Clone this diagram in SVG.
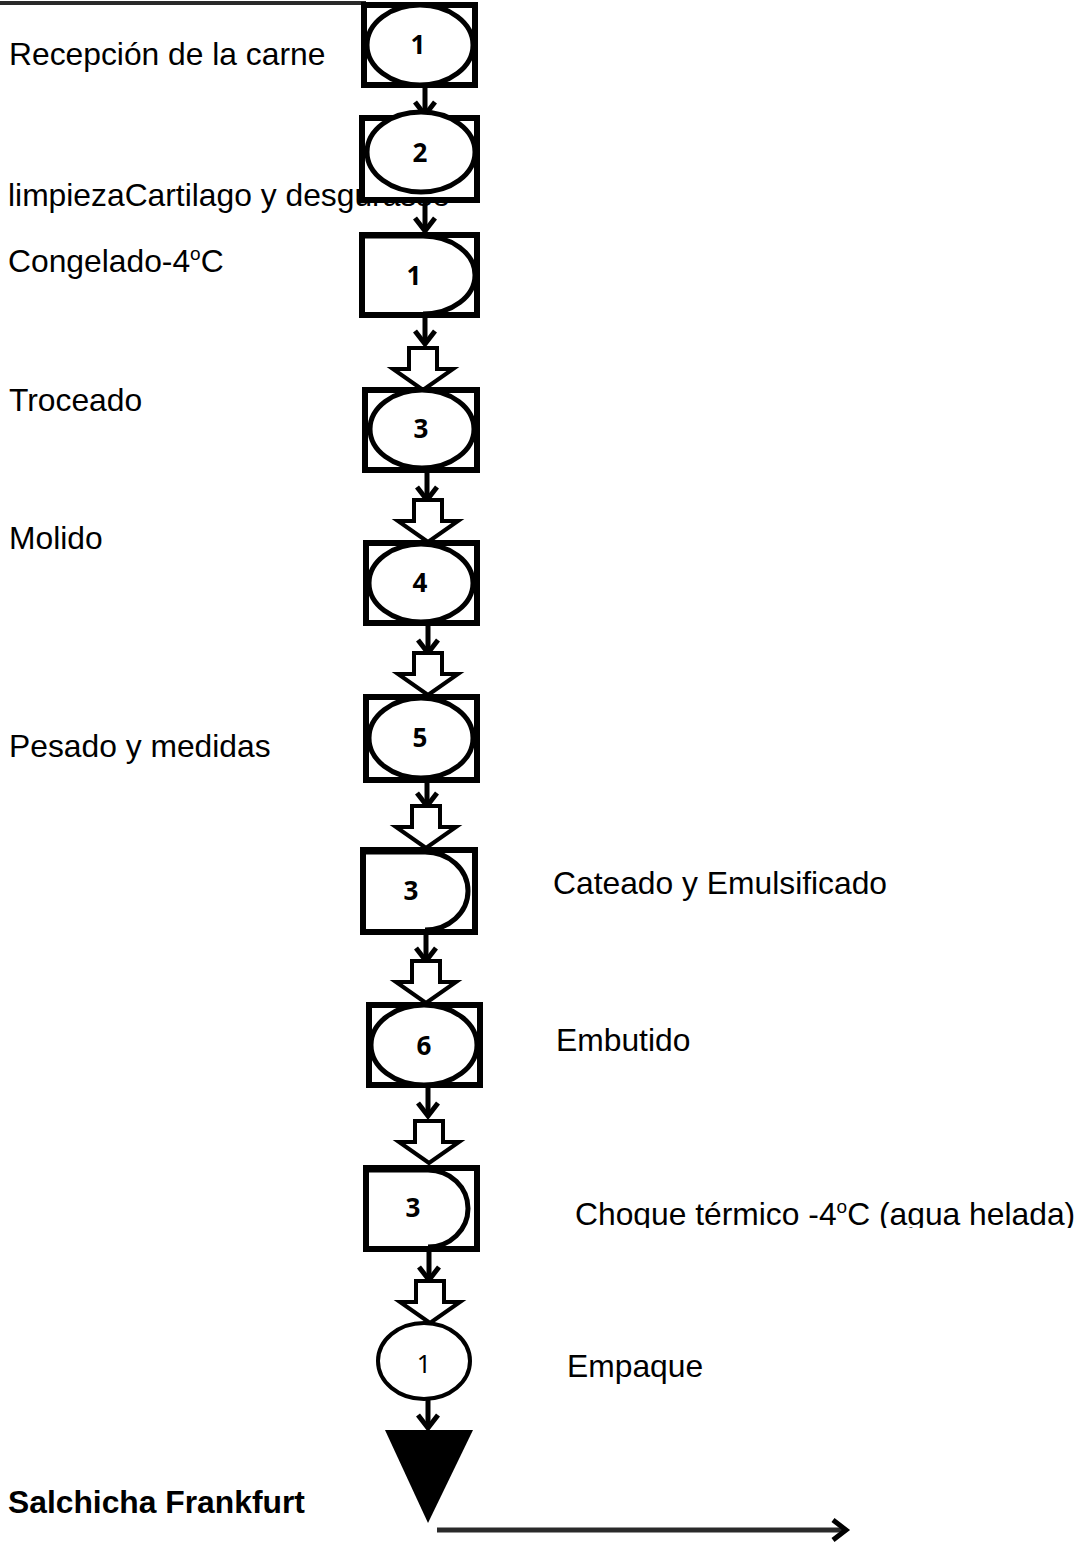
<svg xmlns="http://www.w3.org/2000/svg" xmlns:xlink="http://www.w3.org/1999/xlink" width="1085" height="1542" viewBox="0 0 1085 1542">
  <style>
    .lbl { font-family: "Liberation Sans", Arial, sans-serif; font-size: 31.8px; fill: #000; }
    .bold { font-weight: bold; }
    .num { font-family: "Open Sans", "Noto Sans", sans-serif; font-weight: bold; font-size: 26px; fill: #000; text-anchor: middle; }
    .numr { font-family: "Noto Sans", sans-serif; font-size: 25px; fill: #000; text-anchor: middle; }
    .box { fill: #fff; stroke: #000; stroke-width: 6; }
    .ell { fill: #fff; stroke: #000; stroke-width: 5; }
    .dly { fill: none; stroke: #000; stroke-width: 5; }
    .link { stroke: #000; stroke-width: 5; fill: none; }
    .blk { fill: #fff; stroke: #000; stroke-width: 4; stroke-linejoin: miter; }
  </style>
  <defs>
    <marker id="vhead" markerUnits="userSpaceOnUse" markerWidth="30" markerHeight="30" viewBox="-15 -15 30 30" refX="0" refY="0" orient="auto">
      <path d="M-13,-10 L0,0 L-13,10" fill="none" stroke="#000" stroke-width="5"/>
    </marker>
    <!-- hollow block arrow, tip at origin -->
    <path id="blk" d="M-14,-42 H14 V-21 H30 L0,0 L-30,-21 H-14 Z"/>
    <clipPath id="cutChoque">
      <rect x="500" y="1150" width="585" height="78"/>
    </clipPath>
  </defs>

  <rect width="1085" height="1542" fill="#fff"/>

  <!-- process labels -->
  <g id="labels">
    <text class="lbl" x="9" y="65">Recepción de la carne</text>
    <text class="lbl" x="8" y="206">limpiezaCartilago y desgurasse</text>
    <text class="lbl" x="8" y="272">Congelado-4<tspan font-size="19" dy="-12">o</tspan><tspan dy="12">C</tspan></text>
    <text class="lbl" x="9" y="411">Troceado</text>
    <text class="lbl" x="9" y="549">Molido</text>
    <text class="lbl" x="9" y="757">Pesado y medidas</text>
    <text class="lbl" x="553" y="894">Cateado y Emulsificado</text>
    <text class="lbl" x="556" y="1051">Embutido</text>
    <text class="lbl" x="575" y="1225" clip-path="url(#cutChoque)">Choque térmico -4<tspan font-size="19" dy="-12">o</tspan><tspan dy="12">C (agua helada)</tspan></text>
    <text class="lbl" x="567" y="1377">Empaque</text>
    <text class="lbl bold" x="8" y="1513">Salchicha Frankfurt</text>
  </g>

  <!-- connectors -->
  <g id="connectors">
    <line x1="0" y1="3" x2="366" y2="3" stroke="#2a2a2a" stroke-width="4"/>
    <line class="link" x1="425" y1="85" x2="425" y2="115" marker-end="url(#vhead)"/>
    <line class="link" x1="425" y1="200" x2="425" y2="231" marker-end="url(#vhead)"/>
    <line class="link" x1="425" y1="316" x2="425" y2="344" marker-end="url(#vhead)"/>
    <line class="link" x1="427" y1="470" x2="427" y2="500" marker-end="url(#vhead)"/>
    <line class="link" x1="428" y1="623" x2="428" y2="653" marker-end="url(#vhead)"/>
    <line class="link" x1="427" y1="780" x2="427" y2="806" marker-end="url(#vhead)"/>
    <line class="link" x1="426" y1="933" x2="426" y2="961" marker-end="url(#vhead)"/>
    <line class="link" x1="428" y1="1085" x2="428" y2="1116" marker-end="url(#vhead)"/>
    <line class="link" x1="429" y1="1250" x2="429" y2="1280" marker-end="url(#vhead)"/>
    <line class="link" x1="428" y1="1400" x2="428" y2="1428" marker-end="url(#vhead)"/>

    <use href="#blk" class="blk" x="423" y="390"/>
    <use href="#blk" class="blk" x="428" y="542"/>
    <use href="#blk" class="blk" x="428" y="695"/>
    <use href="#blk" class="blk" x="426" y="848"/>
    <use href="#blk" class="blk" x="426" y="1003"/>
    <use href="#blk" class="blk" x="429" y="1163"/>
    <use href="#blk" class="blk" x="430" y="1323"/>

    <line x1="437" y1="1530" x2="846" y2="1530" stroke="#2a2a2a" stroke-width="5" marker-end="url(#vhead)"/>
  </g>

  <!-- operation: reception -->
  <g id="op1">
    <rect class="box" x="364" y="5" width="111" height="80"/>
    <ellipse class="ell" cx="420" cy="45" rx="53" ry="40"/>
    <text class="num" x="418" y="54">1</text>
  </g>

  <!-- operation: cleaning -->
  <g id="op2">
    <rect class="box" x="362" y="118" width="115" height="82"/>
    <ellipse class="ell" cx="421" cy="152" rx="54" ry="40"/>
    <text class="num" x="420" y="162">2</text>
  </g>

  <!-- delay: freezing -->
  <g id="delay1">
    <rect class="box" x="362" y="235" width="115" height="80"/>
    <path class="dly" d="M362,236 H423 A52,39 0 0 1 423,314"/>
    <text class="num" x="414" y="285">1</text>
  </g>

  <!-- operation: cutting -->
  <g id="op3">
    <rect class="box" x="365" y="390" width="112" height="80"/>
    <ellipse class="ell" cx="422" cy="429" rx="52" ry="39"/>
    <text class="num" x="421" y="438">3</text>
  </g>

  <!-- operation: grinding -->
  <g id="op4">
    <rect class="box" x="366" y="543" width="111" height="80"/>
    <ellipse class="ell" cx="421" cy="583" rx="52" ry="39"/>
    <text class="num" x="420" y="592">4</text>
  </g>

  <!-- operation: weighing -->
  <g id="op5">
    <rect class="box" x="366" y="697" width="111" height="83"/>
    <ellipse class="ell" cx="421" cy="738" rx="52" ry="40"/>
    <text class="num" x="420" y="747">5</text>
  </g>

  <!-- delay: emulsifying -->
  <g id="delay3">
    <rect class="box" x="363" y="850" width="112" height="82"/>
    <path class="dly" d="M363,852 H425 A43,39 0 0 1 425,930"/>
    <text class="num" x="411" y="900">3</text>
  </g>

  <!-- operation: stuffing -->
  <g id="op6">
    <rect class="box" x="369" y="1005" width="111" height="80"/>
    <ellipse class="ell" cx="424" cy="1045" rx="53" ry="40"/>
    <text class="num" x="424" y="1055">6</text>
  </g>

  <!-- delay: thermal shock -->
  <g id="delay3b">
    <rect class="box" x="366" y="1168" width="111" height="81"/>
    <path class="dly" d="M366,1170 H428 A40,38.5 0 0 1 428,1247"/>
    <text class="num" x="413" y="1217">3</text>
  </g>

  <!-- operation: packing -->
  <g id="op7">
    <ellipse cx="424" cy="1361" rx="46" ry="38" fill="#fff" stroke="#000" stroke-width="4"/>
    <text class="numr" x="424" y="1373">1</text>
  </g>

  <!-- storage -->
  <g id="store">
    <polygon points="385,1430 473,1430 428,1523" fill="#000"/>
  </g>
</svg>
